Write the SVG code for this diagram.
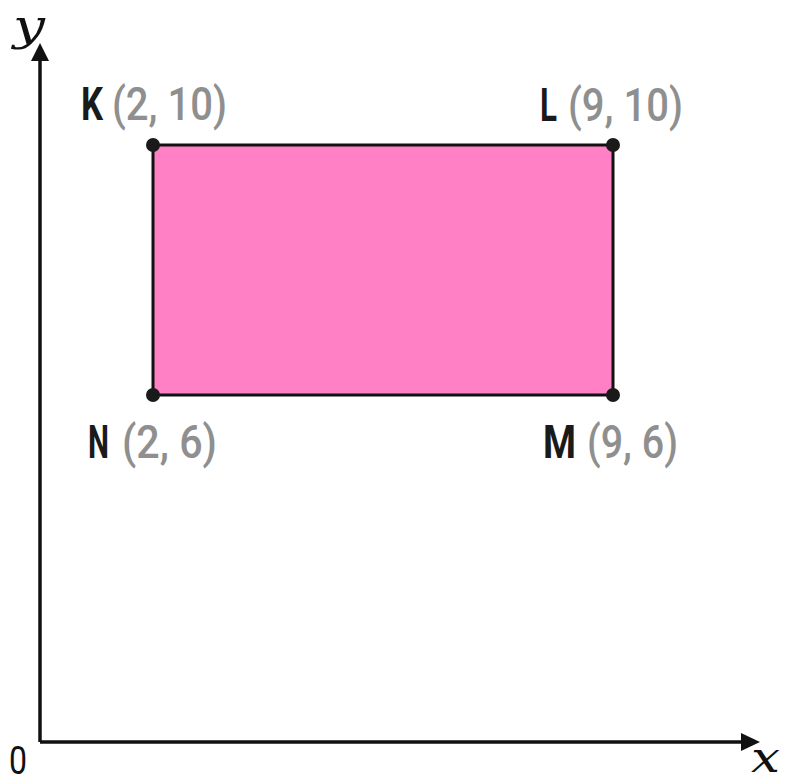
<svg xmlns="http://www.w3.org/2000/svg" width="787" height="782" viewBox="0 0 787 782">
<style>
.lbl{font-family:"Roboto","Liberation Sans",sans-serif;font-size:47px;font-weight:bold;fill:#1a1a1a}
.crd{font-family:"Roboto","Liberation Sans",sans-serif;font-size:47px;font-weight:500;fill:#8f8f8f}
.ax{font-family:"DejaVu Serif","Liberation Serif",serif;font-style:italic;font-size:42px;fill:#111}
.zero{font-family:"Roboto","Liberation Sans",sans-serif;font-size:38px;fill:#111}
.dot{fill:#1a1a1a}
</style>
<rect width="787" height="782" fill="#fff"/>
<g id="axes">
<line x1="40" y1="742" x2="40" y2="58" stroke="#111" stroke-width="3.5"/>
<polygon points="40,43 31,61 49,61" fill="#111"/>
<line x1="40" y1="742" x2="742" y2="742" stroke="#111" stroke-width="3.5"/>
<polygon points="760,742 741,733 741,751" fill="#111"/>
<text class="ax" x="13" y="40" textLength="32" lengthAdjust="spacingAndGlyphs">y</text>
<text class="ax" x="751" y="772" textLength="29" lengthAdjust="spacingAndGlyphs">x</text>
<text class="zero" x="9" y="774" textLength="18" lengthAdjust="spacingAndGlyphs">0</text>
</g>
<g id="rect">
<rect x="153" y="145" width="460" height="250" fill="#ff80c4" stroke="#111" stroke-width="3"/>
</g>
<g id="K">
<circle class="dot" cx="153" cy="145" r="7"/>
<text class="lbl" x="81" y="120" textLength="22" lengthAdjust="spacingAndGlyphs">K</text>
<text class="crd" x="112" y="120" textLength="115" lengthAdjust="spacingAndGlyphs">(2, 10)</text>
</g>
<g id="L">
<circle class="dot" cx="613" cy="145" r="7"/>
<text class="lbl" x="540" y="121" textLength="17" lengthAdjust="spacingAndGlyphs">L</text>
<text class="crd" x="568" y="121" textLength="115" lengthAdjust="spacingAndGlyphs">(9, 10)</text>
</g>
<g id="N">
<circle class="dot" cx="153" cy="395" r="7"/>
<text class="lbl" x="88" y="458" textLength="21" lengthAdjust="spacingAndGlyphs">N</text>
<text class="crd" x="122" y="458" textLength="95" lengthAdjust="spacingAndGlyphs">(2, 6)</text>
</g>
<g id="M">
<circle class="dot" cx="613" cy="395" r="7"/>
<text class="lbl" x="543" y="458" textLength="33" lengthAdjust="spacingAndGlyphs">M</text>
<text class="crd" x="587" y="458" textLength="91" lengthAdjust="spacingAndGlyphs">(9, 6)</text>
</g>
</svg>
